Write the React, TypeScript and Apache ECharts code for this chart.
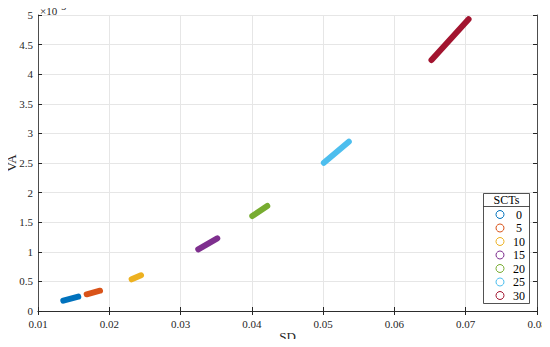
import React, { useEffect, useRef } from "react";
import * as echarts from "echarts";

// SCT groups
const sctNames = ["0", "5", "10", "15", "20", "25", "30"];
const colors = ["#0072BD", "#D95319", "#EDB120", "#7E2F8E", "#77AC30", "#4DBEEE", "#A2142F"];
// SD start/end for each group
const sdStart = [0.01355, 0.01683, 0.02314, 0.03248, 0.04006, 0.0501, 0.0652];
const sdEnd = [0.01565, 0.0187, 0.02445, 0.03515, 0.04216, 0.0536, 0.0704];
// VA (in units of 1e-3) start/end for each group
const vaStartE3 = [0.174, 0.282, 0.535, 1.042, 1.605, 2.505, 4.24];
const vaEndE3 = [0.242, 0.343, 0.603, 1.228, 1.774, 2.86, 4.93];

const FONT = "'Liberation Serif', 'Times New Roman', serif";
const AX = "#262626";
const GRID = "#e6e6e6";

export default function App() {
  const ref = useRef<HTMLDivElement>(null);
  useEffect(() => {
    const chart = echarts.init(ref.current!, null, { renderer: "svg" });
    const series: any[] = sctNames.map((n, i) => ({
      name: n,
      type: "line",
      xAxisIndex: 0,
      yAxisIndex: 0,
      showSymbol: false,
      symbol: "circle",
      color: colors[i],
      lineStyle: { width: 6, cap: "round", color: colors[i] },
      itemStyle: { color: colors[i] },
      data: [
        [sdStart[i], vaStartE3[i]],
        [sdEnd[i], vaEndE3[i]],
      ],
    }));
    const commonX = {
      type: "value",
      min: 0.01,
      max: 0.08,
      interval: 0.01,
    };
    const commonY = {
      type: "value",
      min: 0,
      max: 5,
      interval: 0.5,
    };
    chart.setOption({
      animation: false,
      grid: { left: 38, right: 13, top: 15, bottom: 36, containLabel: false, outerBoundsMode: "none" },
      xAxis: [
        {
          ...commonX,
          position: "bottom",
          name: "SD",
          nameLocation: "middle",
          nameGap: 19,
          nameMoveOverlap: false,
          nameTextStyle: { fontFamily: FONT, fontSize: 13, color: AX },
          axisLine: { show: true, lineStyle: { color: AX, width: 0.8 } },
          axisTick: { show: true, inside: true, length: 4, lineStyle: { color: AX } },
          axisLabel: {
            fontFamily: FONT,
            fontSize: 11,
            color: AX,
            margin: 7,
            formatter: (v: number) => String(Math.round(v * 100) / 100),
          },
          splitLine: { show: true, lineStyle: { color: GRID, width: 1 } },
        },
        {
          ...commonX,
          position: "top",
          axisLine: { show: true, lineStyle: { color: AX, width: 0.8 } },
          axisTick: { show: true, inside: true, length: 4, lineStyle: { color: AX } },
          axisLabel: { show: false },
          splitLine: { show: false },
        },
      ],
      yAxis: [
        {
          ...commonY,
          position: "left",
          name: "VA",
          nameLocation: "middle",
          nameGap: 20,
          nameMoveOverlap: false,
          nameRotate: 90,
          nameTextStyle: { fontFamily: FONT, fontSize: 13, color: AX },
          axisLine: { show: true, lineStyle: { color: AX, width: 0.8 } },
          axisTick: { show: true, inside: true, length: 4, lineStyle: { color: AX } },
          axisLabel: { fontFamily: FONT, fontSize: 11, color: AX, margin: 5 },
          splitLine: { show: true, lineStyle: { color: GRID, width: 1 } },
        },
        {
          ...commonY,
          position: "right",
          axisLine: { show: true, lineStyle: { color: AX, width: 0.8 } },
          axisTick: { show: true, inside: true, length: 4, lineStyle: { color: AX } },
          axisLabel: { show: false },
          splitLine: { show: false },
        },
      ],
      legend: {
        orient: "vertical",
        left: 495.5,
        top: 208.5,
        padding: 0,
        itemGap: 1.5,
        itemWidth: 8,
        itemHeight: 8,
        icon: "circle",
        z: 10,
        data: sctNames.map((n, i) => ({
          name: n,
          icon: "circle",
          itemStyle: { color: "#ffffff", borderColor: colors[i], borderWidth: 1 },
        })),
        formatter: (n: string) => `{a|${n}}`,
        textStyle: {
          fontFamily: FONT,
          fontSize: 12,
          color: "#000",
          lineHeight: 12,
          rich: { a: { fontFamily: FONT, fontSize: 12, color: "#000", width: 20, align: "center", lineHeight: 12 } },
        },
      },
      graphic: [
        {
          type: "rect",
          shape: { x: 483.5, y: 193.5, width: 46, height: 110 },
          style: { fill: "#fff", stroke: AX, lineWidth: 0.8 },
          z: 5,
        },
        {
          type: "line",
          shape: { x1: 483.5, y1: 206.5, x2: 529.5, y2: 206.5 },
          style: { stroke: AX, lineWidth: 0.8 },
          z: 6,
        },
        {
          type: "text",
          x: 506.5,
          y: 200,
          style: {
            text: "SCTs",
            font: `12px ${FONT}`,
            fill: "#000",
            align: "center",
            verticalAlign: "middle",
          },
          z: 6,
        },
        {
          type: "text",
          x: 40,
          y: 11,
          style: { text: "×10", font: `11px ${FONT}`, fill: AX, verticalAlign: "middle" },
          z: 6,
        },
        {
          type: "text",
          x: 58,
          y: 6.5,
          style: { text: "-3", font: `10px ${FONT}`, fill: AX, verticalAlign: "middle" },
          z: 6,
        },
      ],
      series,
    });
    return () => chart.dispose();
  }, []);
  return <div ref={ref} style={{ width: 550, height: 347, margin: -8 }} />;
}
